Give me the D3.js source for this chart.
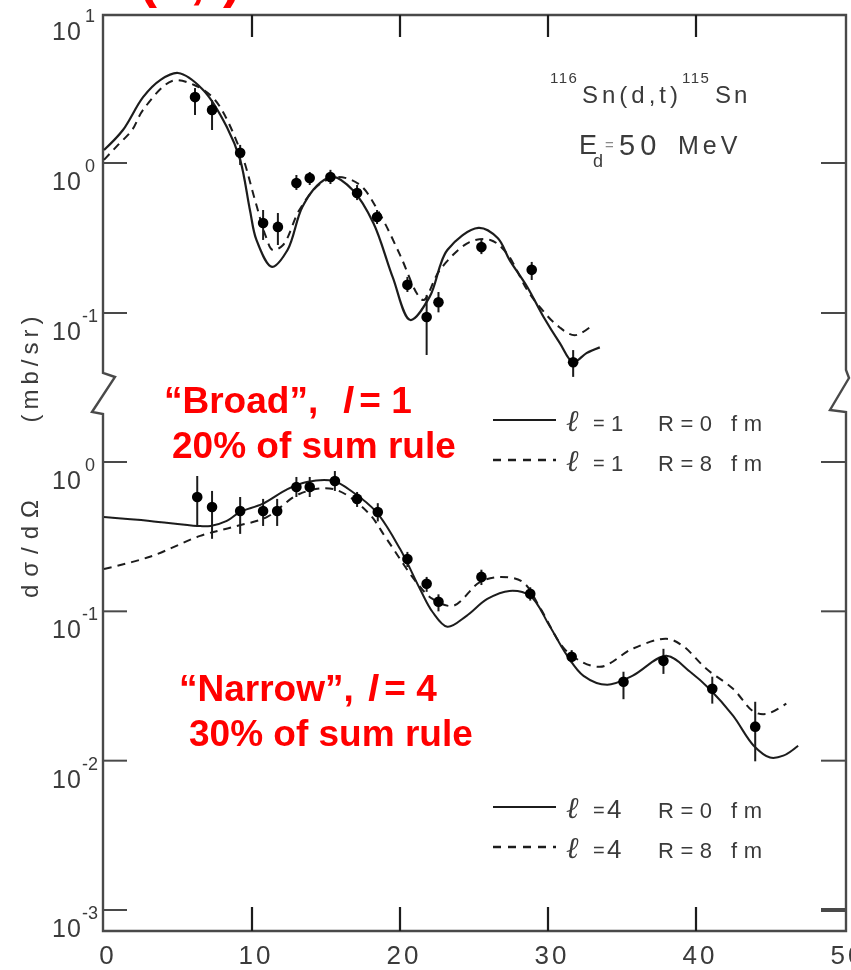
<!DOCTYPE html>
<html>
<head>
<meta charset="utf-8">
<script src="https://cdn.jsdelivr.net/npm/d3@7"></script>
<style>
  html, body { margin: 0; padding: 0; background: #fff; }
  svg { display: block; }
</style>
</head>
<body>
<svg id="chart" width="851" height="970"></svg>
<script>
// ---- angles (deg, c.m.) ----
const xTicks = [0, 10, 20, 30, 40, 50];

// ---- upper panel: l = 1 transfer (mb/sr) ----
const l1AngleR0 = [0, 1.28, 2.64, 3.8, 5.0, 6.7, 8.3, 9.2, 9.86, 10.3, 11.35, 12.4, 13.4, 14.6, 15.5, 16.8, 18.2, 19.5, 20.7, 22.0, 23.2, 25.3, 26.6, 27.4, 28.6, 29.7, 30.8, 31.7, 32.6, 33.5];
const l1SigmaR0 = [1.22, 1.66, 2.75, 3.57, 3.98, 3.07, 1.74, 1.05, 0.486, 0.307, 0.203, 0.263, 0.509, 0.736, 0.807, 0.66, 0.398, 0.174, 0.0898, 0.128, 0.263, 0.369, 0.316, 0.226, 0.149, 0.094, 0.063, 0.047, 0.054, 0.059];
const l1AngleR8 = [0, 0.95, 1.9, 2.64, 4.6, 6.1, 7.5, 9.2, 10.2, 10.9, 11.4, 12.1, 13.2, 14.5, 15.8, 17.3, 18.6, 20.0, 21.2, 21.6, 22.7, 24.7, 26.1, 27.2, 28.6, 29.5, 30.6, 31.8, 33.0];
const l1SigmaR8 = [1.05, 1.32, 1.66, 2.26, 3.52, 3.31, 2.63, 1.22, 0.567, 0.331, 0.263, 0.284, 0.486, 0.713, 0.807, 0.713, 0.464, 0.244, 0.132, 0.122, 0.194, 0.297, 0.307, 0.251, 0.142, 0.108, 0.083, 0.071, 0.083];
const l1DataAngle = [6.15, 7.3, 9.2, 10.75, 11.75, 13.0, 13.9, 15.3, 17.1, 18.45, 20.5, 21.8, 22.6, 25.5, 28.9, 31.7];
const l1DataSigma = [2.75, 2.26, 1.17, 0.398, 0.375, 0.736, 0.794, 0.807, 0.631, 0.437, 0.154, 0.094, 0.118, 0.275, 0.194, 0.047];
const l1DataHi    = [3.16, 2.63, 1.32, 0.486, 0.464, 0.832, 0.871, 0.90, 0.713, 0.486, 0.174, 0.132, 0.138, 0.307, 0.219, 0.0566];
const l1DataLo    = [2.09, 1.66, 0.97, 0.307, 0.284, 0.661, 0.713, 0.724, 0.566, 0.392, 0.138, 0.0525, 0.101, 0.247, 0.166, 0.0375];

// ---- lower panel: l = 4 transfer (mb/sr) ----
const l4AngleR0 = [0, 3.1, 6.3, 7.2, 8.3, 9.2, 10.7, 12.4, 13.7, 15.5, 16.8, 18.4, 20.0, 21.35, 22.2, 23.2, 24.5, 25.9, 27.4, 28.8, 30.1, 31.3, 32.4, 34.0, 35.7, 38.0, 39.6, 40.9, 42.5, 43.9, 45.0, 45.9, 46.9];
const l4SigmaR0 = [0.428, 0.403, 0.373, 0.373, 0.403, 0.463, 0.524, 0.659, 0.735, 0.746, 0.630, 0.463, 0.262, 0.141, 0.099, 0.0788, 0.0933, 0.121, 0.137, 0.127, 0.080, 0.0504, 0.037, 0.0322, 0.037, 0.0504, 0.0394, 0.0303, 0.020, 0.0126, 0.0105, 0.0108, 0.0126];
const l4AngleR8 = [0, 3.1, 6.5, 8.7, 11.0, 13.2, 15.5, 17.8, 19.1, 21.1, 22.2, 23.6, 25.4, 26.8, 28.3, 29.5, 31.3, 33.5, 35.7, 38.0, 39.1, 40.7, 42.5, 43.9, 44.8, 46.1];
const l4SigmaR8 = [0.192, 0.232, 0.320, 0.367, 0.428, 0.611, 0.659, 0.463, 0.305, 0.157, 0.121, 0.109, 0.157, 0.170, 0.157, 0.104, 0.0536, 0.0425, 0.0561, 0.0655, 0.0588, 0.0412, 0.0303, 0.0213, 0.0206, 0.0241];
const l4DataAngle = [6.3, 7.3, 9.2, 10.75, 11.7, 13.0, 13.9, 15.6, 17.1, 18.5, 20.5, 21.8, 22.6, 25.5, 28.8, 31.6, 35.1, 37.8, 41.1, 44.0];
const l4DataSigma = [0.583, 0.50, 0.47, 0.47, 0.47, 0.68, 0.68, 0.746, 0.566, 0.463, 0.224, 0.153, 0.116, 0.170, 0.131, 0.0496, 0.0338, 0.0466, 0.0303, 0.0169];
const l4DataHi    = [0.806, 0.64, 0.583, 0.566, 0.566, 0.794, 0.794, 0.87, 0.63, 0.53, 0.25, 0.17, 0.13, 0.19, 0.145, 0.055, 0.0394, 0.0561, 0.0365, 0.0248];
const l4DataLo    = [0.367, 0.306, 0.33, 0.373, 0.373, 0.583, 0.583, 0.64, 0.50, 0.40, 0.198, 0.135, 0.10, 0.15, 0.118, 0.045, 0.0258, 0.0381, 0.0241, 0.0099];

// decade labels for each panel
const topDecades = [{v: 10, e: "1"}, {v: 1, e: "0"}, {v: 0.1, e: "-1"}];
const botDecades = [{v: 1, e: "0"}, {v: 0.1, e: "-1"}, {v: 0.01, e: "-2"}, {v: 0.001, e: "-3"}];

const svg = d3.select("#chart");
const ink = "#1c1c1c";
const frameInk = "#4a4a4a";
const textInk = "#3a3a3a";
const sans = "Liberation Sans, Arial, sans-serif";

// soft scanned-print look for the figure itself
const defs = svg.append("defs");
defs.append("filter").attr("id", "soft")
  .append("feGaussianBlur").attr("stdDeviation", 0.45);

const L = 103, R = 846, T = 15, B = 931;
const x = d3.scaleLinear().domain([0, 50]).range([104, 844]);
const yTop = d3.scaleLog().domain([0.1, 10]).range([313, 13]);
const yBot = d3.scaleLog().domain([0.001, 1]).range([910, 462]);

const fig = svg.append("g").attr("filter", "url(#soft)");

// ---- frame with axis breaks ----
fig.append("path")
  .attr("d", `M${L},${B} L${L},414 L92,412 L115,377 L${L},373 L${L},${T} L${R},${T} L${R},370 L849,378 L830,410 L${R},412 L${R},${B} Z`)
  .attr("fill", "none").attr("stroke", frameInk).attr("stroke-width", 2.4);

// x ticks (bottom pointing up, top pointing down)
const inner = xTicks.filter(d => d > 0 && d < 50);
fig.append("g").selectAll("line").data(inner).join("line")
  .attr("x1", d => x(d)).attr("x2", d => x(d)).attr("y1", B).attr("y2", B - 24)
  .attr("stroke", ink).attr("stroke-width", 2.2);
fig.append("g").selectAll("line").data(inner).join("line")
  .attr("x1", d => x(d)).attr("x2", d => x(d)).attr("y1", T).attr("y2", T + 22)
  .attr("stroke", ink).attr("stroke-width", 2.2);

// x tick labels
fig.append("g").selectAll("text").data(xTicks).join("text")
  .attr("x", d => x(d) + 4).attr("y", 964)
  .attr("text-anchor", "middle")
  .attr("font-family", sans)
  .attr("font-size", 26).attr("letter-spacing", 3)
  .attr("fill", textInk)
  .text(d => d);

// y ticks on both sides
const yTickPos = topDecades.filter(d => d.v < 10).map(d => yTop(d.v)).concat(botDecades.map(d => yBot(d.v)));
fig.append("g").selectAll("line").data(yTickPos).join("line")
  .attr("x1", L).attr("x2", L + 24).attr("y1", d => d).attr("y2", d => d)
  .attr("stroke", frameInk).attr("stroke-width", 2);
fig.append("g").selectAll("line").data(yTickPos).join("line")
  .attr("x1", R).attr("x2", R - 25).attr("y1", d => d).attr("y2", d => d)
  .attr("stroke", frameInk).attr("stroke-width", d => d > 900 ? 4 : 2);

// y tick labels: 10 with superscript exponent
function decadeLabels(list, scale) {
  const g = fig.append("g").attr("font-family", sans).attr("fill", textInk);
  list.forEach(d => {
    const t = scale(d.v);
    const lab = g.append("text").attr("x", 52).attr("y", t + 27).attr("font-size", 25);
    lab.append("tspan").attr("letter-spacing", 1).text("10");
    lab.append("tspan").attr("x", d.e.length > 1 ? 82 : 85).attr("y", t + 9)
      .attr("font-size", 18).text(d.e);
  });
}
decadeLabels(topDecades, yTop);
decadeLabels(botDecades, yBot);

// y axis title, reading bottom to top
const yTitle = fig.append("g").attr("font-family", sans).attr("font-size", 24).attr("fill", textInk);
yTitle.append("text").attr("transform", "translate(38,545) rotate(-90)")
  .attr("text-anchor", "middle").attr("letter-spacing", 8).text("dσ/dΩ");
yTitle.append("text").attr("transform", "translate(38,367) rotate(-90)")
  .attr("text-anchor", "middle").attr("letter-spacing", 5).text("(mb/sr)");

// ---- curves ----
function curve(xs, ys, scale, dashed, width) {
  const pts = xs.map((v, i) => [x(v), scale(ys[i])]);
  fig.append("path")
    .attr("d", d3.line().curve(d3.curveCatmullRom.alpha(0.5))(pts))
    .attr("fill", "none").attr("stroke", ink)
    .attr("stroke-width", width)
    .attr("stroke-dasharray", dashed ? "8,6" : null);
}
curve(l1AngleR0, l1SigmaR0, yTop, false, 2.2);
curve(l1AngleR8, l1SigmaR8, yTop, true, 2.0);
curve(l4AngleR0, l4SigmaR0, yBot, false, 2.0);
curve(l4AngleR8, l4SigmaR8, yBot, true, 2.0);

// ---- measured points with error bars ----
function points(xs, ys, lo, hi, scale) {
  const g = fig.append("g");
  g.selectAll("line").data(xs).join("line")
    .attr("x1", d => x(d)).attr("x2", d => x(d))
    .attr("y1", (d, i) => scale(hi[i])).attr("y2", (d, i) => scale(lo[i]))
    .attr("stroke", ink).attr("stroke-width", 2);
  g.selectAll("circle").data(xs).join("circle")
    .attr("cx", d => x(d)).attr("cy", (d, i) => scale(ys[i]))
    .attr("r", 5.3).attr("fill", "#000");
}
points(l1DataAngle, l1DataSigma, l1DataLo, l1DataHi, yTop);
points(l4DataAngle, l4DataSigma, l4DataLo, l4DataHi, yBot);

// ---- reaction label ----
const rx = fig.append("g").attr("font-family", sans).attr("fill", textInk);
rx.append("text").attr("x", 550).attr("y", 83).attr("font-size", 15).attr("letter-spacing", 1.5).text("116");
rx.append("text").attr("x", 582).attr("y", 103).attr("font-size", 24).attr("letter-spacing", 4).text("Sn(d,t)");
rx.append("text").attr("x", 682).attr("y", 83).attr("font-size", 15).attr("letter-spacing", 1.5).text("115");
rx.append("text").attr("x", 715).attr("y", 103).attr("font-size", 24).attr("letter-spacing", 3).text("Sn");
// beam energy: E with subscript d, then "= 50 MeV"
const eLine = rx.append("text").attr("x", 579).attr("y", 154).attr("font-size", 27);
eLine.append("tspan").text("E");
eLine.append("tspan").attr("x", 593).attr("y", 167).attr("font-size", 18).text("d");
eLine.append("tspan").attr("x", 605).attr("y", 150).attr("font-size", 15).attr("fill", "#8a8a8a").text("=");
eLine.append("tspan").attr("x", 619).attr("y", 155).attr("font-size", 29).attr("letter-spacing", 5).text("50");
eLine.append("tspan").attr("x", 678).attr("y", 154).attr("font-size", 25).attr("letter-spacing", 4).text("MeV");

// ---- legends ----
function legend(y0, lval) {
  const g = fig.append("g").attr("font-family", sans).attr("fill", textInk);
  [["0", false, y0], ["8", true, y0 + 40]].forEach(([r, dashed, yy]) => {
    g.append("line").attr("x1", 493).attr("x2", 556).attr("y1", yy).attr("y2", yy)
      .attr("stroke", ink).attr("stroke-width", dashed ? 2.4 : 2)
      .attr("stroke-dasharray", dashed ? "8,7" : null);
    g.append("text").attr("x", 566).attr("y", yy + 11).attr("font-size", 30)
      .attr("font-family", "DejaVu Serif, serif").attr("font-style", "italic").text("ℓ");
    g.append("text").attr("x", 593).attr("y", yy + 10).attr("font-size", 20).text("=");
    g.append("text").attr("x", lval === "4" ? 607 : 611).attr("y", yy + 11)
      .attr("font-size", lval === "4" ? 26 : 22).text(lval);
    g.append("text").attr("x", 658).attr("y", yy + 11).attr("font-size", 22).attr("letter-spacing", 6.5).text("R=" + r + " fm");
  });
}
legend(420, "1");
legend(807, "4");

// ---- red annotations ----
const red = svg.append("g")
  .attr("font-family", sans)
  .attr("font-weight", "bold").attr("fill", "#ff0000");
red.append("text").attr("x", 139).attr("y", -3).attr("font-size", 54).text("(d,t)");

function note(x0, y0, head, lval, x1, line2, x2) {
  const t = red.append("text").attr("x", x0).attr("y", y0).attr("font-size", 37);
  t.append("tspan").text(head);
  t.append("tspan").attr("x", x1).attr("font-style", "italic").text("l");
  t.append("tspan").attr("dx", 6).text("= " + lval);
  red.append("text").attr("x", x2).attr("y", y0 + 45).attr("font-size", 37).text(line2);
}
note(164, 413, "“Broad”,", "1", 343, "20% of sum rule", 172);
note(179, 701, "“Narrow”,", "4", 368, "30% of sum rule", 189);
</script>
</body>
</html>
